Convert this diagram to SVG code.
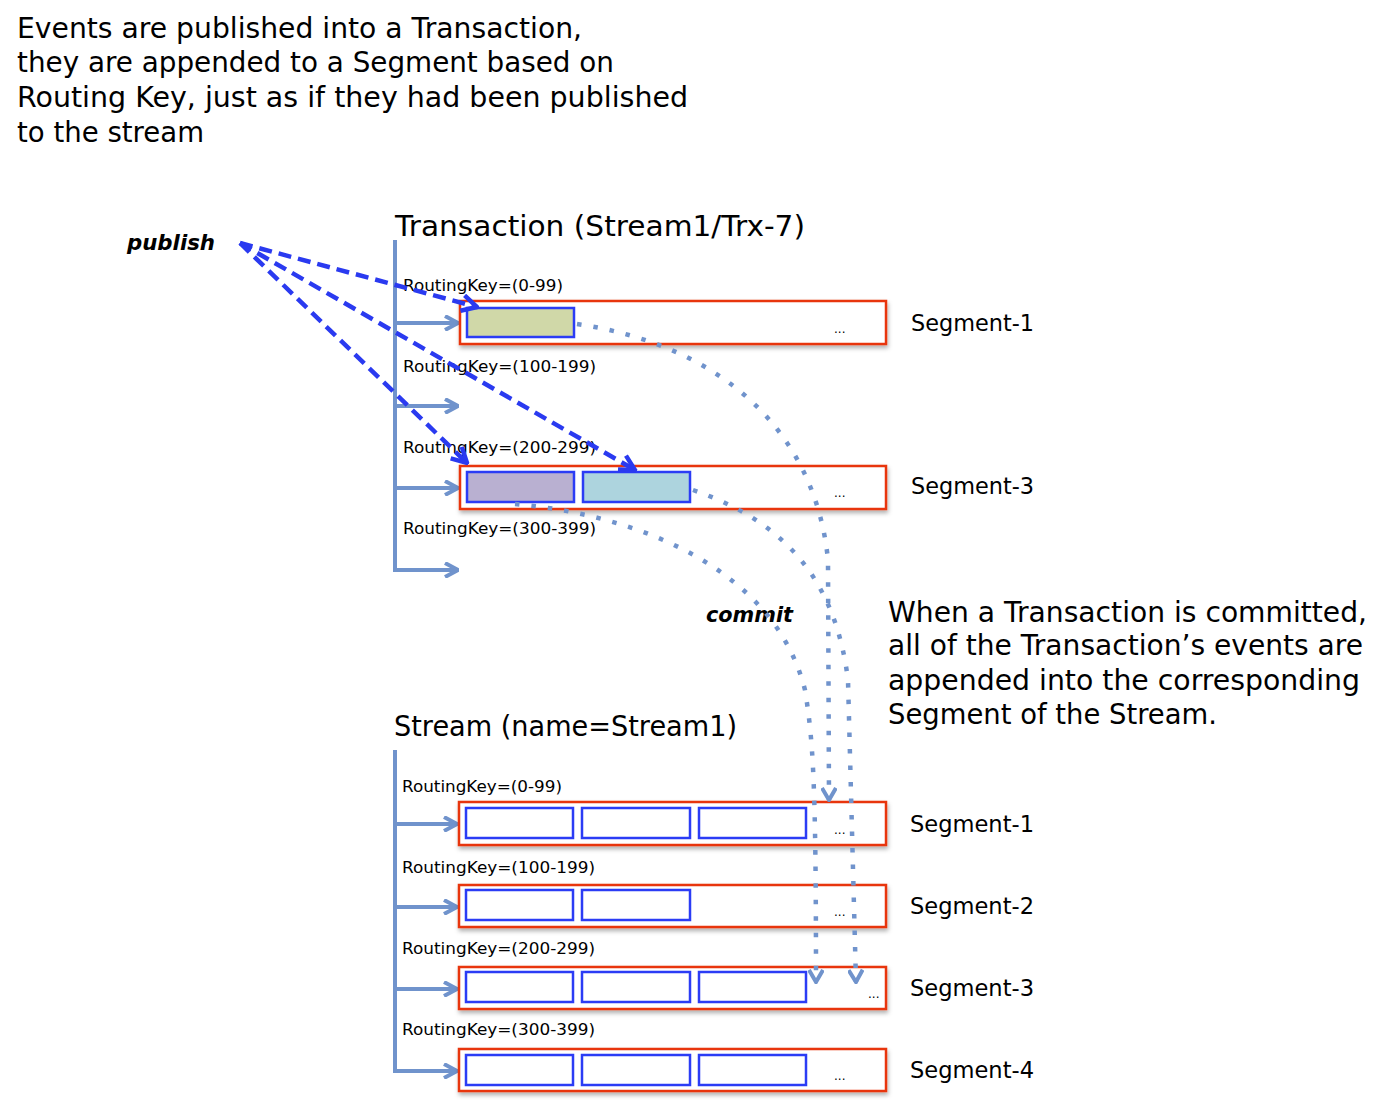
<svg xmlns="http://www.w3.org/2000/svg" width="1389" height="1104" viewBox="0 0 1389 1104">
<defs>
<style>
text{font-family:"DejaVu Sans","Liberation Sans",sans-serif;fill:#000}
.big{font-size:29px}
.seg{font-size:23px}
.rk{font-size:16px}
.dots{font-size:12px}
.lbl{font-size:22px;font-weight:bold;font-style:italic}
.segbox{fill:#fff;stroke:#e8340e;stroke-width:2.5;filter:url(#sh)}
.ev{stroke:#2b3cf5;stroke-width:2.5;fill:#fff}
.rail{stroke:#7093cc;stroke-width:4;fill:none}
.harr{stroke:#7093cc;stroke-width:4;fill:none;marker-end:url(#va)}
.pub{stroke:#2a3af0;stroke-width:4.5;fill:none;stroke-dasharray:13 7;marker-end:url(#pa)}
.cm{stroke:#7093cc;stroke-width:4.5;fill:none;stroke-dasharray:4.5 12;marker-end:url(#ca)}
</style>
<filter id="sh" x="-5%" y="-20%" width="110%" height="150%">
<feDropShadow dx="1" dy="3" stdDeviation="2" flood-color="#000" flood-opacity="0.3"/>
</filter>
<marker id="va" markerUnits="userSpaceOnUse" viewBox="0 0 16 16" refX="15" refY="8" markerWidth="16" markerHeight="16" orient="auto">
<path d="M2,1 L15,8 L2,15" fill="none" stroke="#7093cc" stroke-width="4" stroke-linejoin="miter"/>
</marker>
<marker id="pa" markerUnits="userSpaceOnUse" viewBox="0 0 20 20" refX="18" refY="10" markerWidth="20" markerHeight="20" orient="auto">
<path d="M3,2 L18,10 L3,18" fill="none" stroke="#2a3af0" stroke-width="4.5"/>
</marker>
<marker id="ca" markerUnits="userSpaceOnUse" viewBox="0 0 16 16" refX="14" refY="8" markerWidth="16" markerHeight="16" orient="auto">
<path d="M2,1 L14,8 L2,15" fill="none" stroke="#7093cc" stroke-width="4"/>
</marker>
</defs>
<rect width="1389" height="1104" fill="#fff"/>

<g id="intro-text">
<text class="big" x="17" y="38" textLength="565" lengthAdjust="spacingAndGlyphs">Events are published into a Transaction,</text>
<text class="big" x="17" y="72" textLength="597" lengthAdjust="spacingAndGlyphs">they are appended to a Segment based on</text>
<text class="big" x="17" y="107" textLength="671" lengthAdjust="spacingAndGlyphs">Routing Key, just as if they had been published</text>
<text class="big" x="17" y="142" textLength="187" lengthAdjust="spacingAndGlyphs">to the stream</text>
</g>

<g id="commit-text">
<text class="big" x="888" y="622" textLength="479" lengthAdjust="spacingAndGlyphs">When a Transaction is committed,</text>
<text class="big" x="888" y="655" textLength="475" lengthAdjust="spacingAndGlyphs">all of the Transaction’s events are</text>
<text class="big" x="888" y="690" textLength="472" lengthAdjust="spacingAndGlyphs">appended into the corresponding</text>
<text class="big" x="888" y="724" textLength="329" lengthAdjust="spacingAndGlyphs">Segment of the Stream.</text>
</g>

<g id="publish-label"><text class="lbl" x="127" y="250" textLength="88" lengthAdjust="spacingAndGlyphs">publish</text></g>
<g id="commit-label"><text class="lbl" x="706" y="622" textLength="87" lengthAdjust="spacingAndGlyphs">commit</text></g>

<g id="transaction">
<text class="big" x="395" y="236" textLength="410" lengthAdjust="spacingAndGlyphs">Transaction (Stream1/Trx-7)</text>
<path class="rail" d="M395,240 V572"/>
<text class="rk" x="403" y="291" textLength="160" lengthAdjust="spacingAndGlyphs">RoutingKey=(0-99)</text>
<text class="rk" x="403" y="372" textLength="193" lengthAdjust="spacingAndGlyphs">RoutingKey=(100-199)</text>
<text class="rk" x="403" y="453" textLength="193" lengthAdjust="spacingAndGlyphs">RoutingKey=(200-299)</text>
<text class="rk" x="403" y="534" textLength="193" lengthAdjust="spacingAndGlyphs">RoutingKey=(300-399)</text>
<path class="harr" d="M395,323 H458"/>
<path class="harr" d="M395,406 H458"/>
<path class="harr" d="M395,488 H458"/>
<path class="harr" d="M395,570 H458"/>
</g>

<g id="trx-segment-1">
<rect class="segbox" x="460" y="301" width="426" height="43"/>
<rect class="ev" x="467" y="308" width="107" height="29" fill="#d0d8a8" style="fill:#d0d8a8"/>
<text class="dots" x="834" y="333">...</text>
<text class="seg" x="911" y="331" textLength="123" lengthAdjust="spacingAndGlyphs">Segment-1</text>
</g>

<g id="trx-segment-3">
<rect class="segbox" x="460" y="466" width="426" height="43"/>
<rect class="ev" x="467" y="472" width="107" height="30" style="fill:#b9b0d1"/>
<rect class="ev" x="583" y="472" width="107" height="30" style="fill:#add4de"/>
<text class="dots" x="834" y="497">...</text>
<text class="seg" x="911" y="494" textLength="123" lengthAdjust="spacingAndGlyphs">Segment-3</text>
</g>

<g id="stream">
<text class="big" x="394" y="736" textLength="343" lengthAdjust="spacingAndGlyphs">Stream (name=Stream1)</text>
<path class="rail" d="M395,750 V1073"/>
<text class="rk" x="402" y="792" textLength="160" lengthAdjust="spacingAndGlyphs">RoutingKey=(0-99)</text>
<text class="rk" x="402" y="873" textLength="193" lengthAdjust="spacingAndGlyphs">RoutingKey=(100-199)</text>
<text class="rk" x="402" y="954" textLength="193" lengthAdjust="spacingAndGlyphs">RoutingKey=(200-299)</text>
<text class="rk" x="402" y="1035" textLength="193" lengthAdjust="spacingAndGlyphs">RoutingKey=(300-399)</text>
<path class="harr" d="M395,824 H457"/>
<path class="harr" d="M395,907 H457"/>
<path class="harr" d="M395,989 H457"/>
<path class="harr" d="M395,1071 H457"/>
</g>

<g id="stream-segment-1">
<rect class="segbox" x="459" y="802" width="427" height="43"/>
<rect class="ev" x="466" y="808" width="107" height="30"/>
<rect class="ev" x="582" y="808" width="108" height="30"/>
<rect class="ev" x="699" y="808" width="107" height="30"/>
<text class="dots" x="834" y="834">...</text>
<text class="seg" x="910" y="832" textLength="124" lengthAdjust="spacingAndGlyphs">Segment-1</text>
</g>

<g id="stream-segment-2">
<rect class="segbox" x="459" y="885" width="427" height="42"/>
<rect class="ev" x="466" y="890" width="107" height="30"/>
<rect class="ev" x="582" y="890" width="108" height="30"/>
<text class="dots" x="834" y="916">...</text>
<text class="seg" x="910" y="914" textLength="124" lengthAdjust="spacingAndGlyphs">Segment-2</text>
</g>

<g id="stream-segment-3">
<rect class="segbox" x="459" y="967" width="427" height="42"/>
<rect class="ev" x="466" y="972" width="107" height="30"/>
<rect class="ev" x="582" y="972" width="108" height="30"/>
<rect class="ev" x="699" y="972" width="107" height="30"/>
<text class="dots" x="868" y="998">...</text>
<text class="seg" x="910" y="996" textLength="124" lengthAdjust="spacingAndGlyphs">Segment-3</text>
</g>

<g id="stream-segment-4">
<rect class="segbox" x="459" y="1049" width="427" height="42"/>
<rect class="ev" x="466" y="1055" width="107" height="30"/>
<rect class="ev" x="582" y="1055" width="108" height="30"/>
<rect class="ev" x="699" y="1055" width="107" height="30"/>
<text class="dots" x="834" y="1080">...</text>
<text class="seg" x="910" y="1078" textLength="124" lengthAdjust="spacingAndGlyphs">Segment-4</text>
</g>

<g id="connectors">
<path class="pub" d="M240,243 L477,307"/>
<path class="pub" d="M240,243 L635,470"/>
<path class="pub" d="M240,243 L467,463"/>
<path class="cm" d="M577,324 C720,345 815,430 828,560 L829,800"/>
<path class="cm" d="M693,490 C780,520 835,575 848,680 L856,982"/>
<path class="cm" d="M515,504 C640,515 775,570 805,690 C813,740 816,780 816,982"/>
</g>
</svg>
